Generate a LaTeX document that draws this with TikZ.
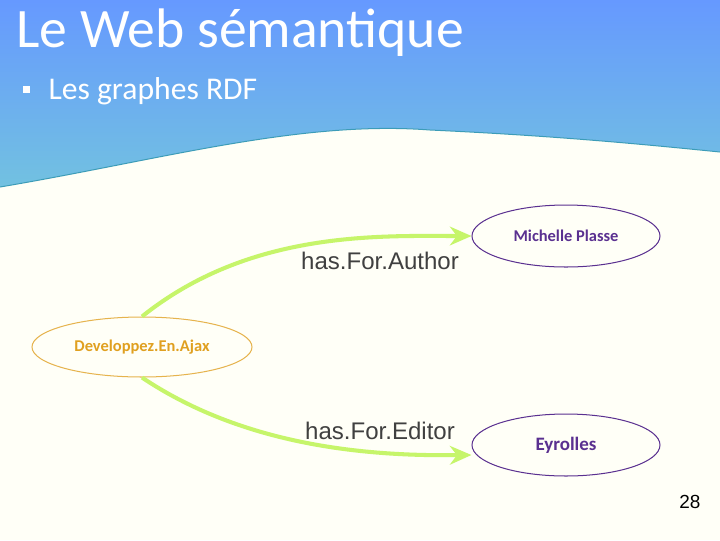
\documentclass[tikz,border=0pt]{standalone}
\usepackage{fontspec}
\setmainfont{Carlito}
\newfontfamily\arialfont{Liberation Sans}
\usetikzlibrary{shapes.geometric, arrows.meta, positioning}
\definecolor{SkyTop}{HTML}{6699FF}
\definecolor{SkyLow}{HTML}{72C2E0}
\definecolor{WaveEdge}{HTML}{3C9CB8}
\definecolor{ResPurple}{HTML}{5A3090}
\definecolor{ResOrange}{HTML}{E0A020}
\definecolor{EdgeGreen}{HTML}{C6F56A}
\tikzset{
    resnode/.style={ellipse, draw=ResPurple, thin, minimum width=188\px, minimum height=62\px,
        font=\bfseries\fontsize{6.5}{8}\selectfont, text=ResPurple},
    subjnode/.style={ellipse, draw=ResOrange!80, thin, minimum width=220\px, minimum height=60\px,
        font=\bfseries\fontsize{6.5}{8}\selectfont, text=ResOrange},
    proparrow/.style={-{Stealth[length=3mm, width=2.6mm]}, line width=1.6pt, EdgeGreen},
    proplabel/.style={font=\arialfont\fontsize{9.5}{11}\selectfont, text=black!75},
}
\newlength{\px}
\setlength{\px}{0.01389cm}
\begin{document}
\begin{tikzpicture}[x=0.01389cm, y=-0.01389cm]
    \useasboundingbox (0,0) rectangle (720,540);
    % background and header wave
    \fill[white!97!yellow] (0,0) rectangle (720,540);
    \shade[top color=SkyTop, bottom color=SkyLow] (0,0) rectangle (720,190);
    \fill[white!97!yellow] (0,187) .. controls (160,160) and (300,120) .. (430,130)
        .. controls (560,136) and (650,145) .. (720,152) -- (720,200) -- (0,200) -- cycle;
    \draw[WaveEdge, thin] (0,187) .. controls (160,160) and (300,120) .. (430,130)
        .. controls (560,136) and (650,145) .. (720,152);

    % titles
    \node[anchor=base west, text=white, font=\fontsize{22}{26}\selectfont, inner sep=0] (title) at (16,47) {Le Web sémantique};
    \fill[white] (23,86) rectangle (30,93);
    \node[anchor=base west, text=white, font=\fontsize{12.5}{15}\selectfont, inner sep=0] (subtitle) at (48,99) {Les graphes RDF};

    % RDF graph
    \node[subjnode] (ajax) at (142,347) {Developpez.En.Ajax};
    \node[resnode] (author) at (566,236) {Michelle Plasse};
    \node[resnode, font=\bfseries\fontsize{7.5}{9}\selectfont] (editor) at (566,445) {Eyrolles};

    \draw[proparrow] (ajax.north) .. controls (250,230) and (380,236) .. (author.west);
    \draw[proparrow] (ajax.south) .. controls (250,450) and (380,456) .. ([yshift=-10\px]editor.west);

    \node[proplabel] (lblauthor) at (380,261) {has.For.Author};
    \node[proplabel] (lbleditor) at (380,431) {has.For.Editor};

    \node[font=\arialfont\fontsize{7.5}{9}\selectfont] (pagenum) at (690,502) {28};
\end{tikzpicture}
\end{document}
